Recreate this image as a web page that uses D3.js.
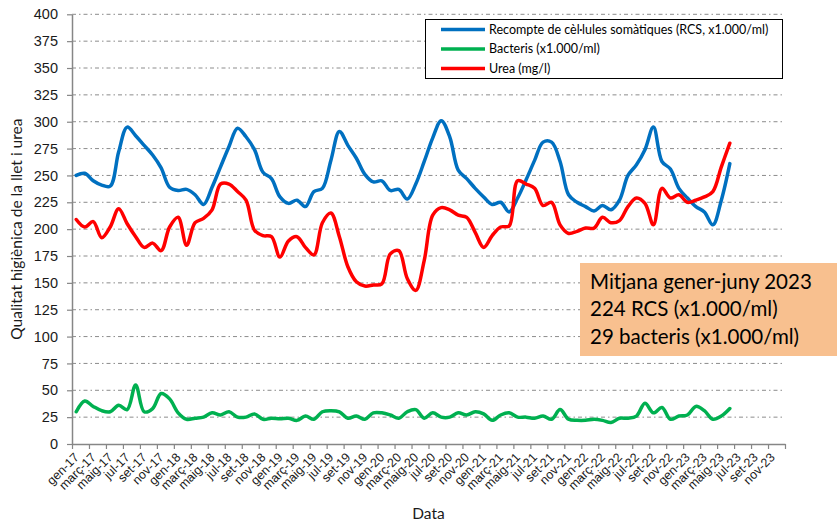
<!DOCTYPE html>
<html>
<head>
<meta charset="utf-8">
<script src="https://cdn.jsdelivr.net/npm/d3@7"></script>
<style>
  body { margin: 0; background: #fff; }
  svg { display: block; font-family: Lato, "Open Sans", sans-serif; }
</style>
</head>
<body>
<div id="chart"></div>
<script>
// dades mensuals gen-17 .. juny-23
var rcs = [250,252,245,241,240,272,295,287,278,269,257,239,
           236,237,232,223,239,258,277,294,286,274,253,247,
           230,224,227,221,235,238,264,291,278,266,251,244,
           245,236,237,228,242,263,285,301,286,255,247,238,
           230,223,225,216,229,246,264,281,281,263,232,225,
           221,217,222,218,227,250,260,274,295,263,256,238,
           229,221,216,204,227,261];
var bacteris = [30,40,35,31,30,36,32,55,30,33,47,42,
                29,23,24,25,29,27,30,25,25,28,23,24,
                23.5,24,22,26,23,30,31,30,24,26,23,29,
                29,27,24,30,32,24,29,25,25,29,27,30,
                28,22,27,29,25,25,24,26,23,32,23,22,
                22,23,22,20,24,24,26,38,29,34,23,26,
                27,35,31,23,26,33];
var urea = [209,202,207,192,202,219,205,193,183,187,180,202,
            211,185,206,210,218,242,242,235,227,199,194,193,
            174,189,193,183,176,206,215,193,165,151,147,148,
            149,177,180,154,143,171,213,220,218,213,211,197,
            183,194,202,203,245,242,238,222,225,204,196,198,
            201,201,211,206,208,221,229,224,204,238,229,232,
            225,227,230,235,258,280];

var tickMonths = ["gen","març","maig","jul","set","nov"];
var tickYears = ["17","18","19","20","21","22","23"];
var yTicks = d3.range(0, 401, 25);

var seriesNames = ["Recompte de cèl·lules somàtiques (RCS, x1.000/ml)", "Bacteris (x1.000/ml)", "Urea (mg/l)"];
var seriesColors = ["#0070C0", "#00B050", "#FF0000"];
var noteLines = ["Mitjana gener-juny 2023", "224 RCS (x1.000/ml)", "29 bacteris (x1.000/ml)"];

var tickLabels = [];
tickYears.forEach(function(yy){
    tickMonths.forEach(function(m){ tickLabels.push(m + "-" + yy); });
});

var width = 837, height = 525;
var svg = d3.select("#chart").append("svg")
    .attr("width", width)
    .attr("height", height);

var x = d3.scaleLinear().domain([0, 84]).range([72, 785]);
var y = d3.scaleLinear().domain([0, 400]).range([444, 14.3]);

// graella
svg.append("g").selectAll("line")
    .data(yTicks.filter(function(d){ return d > 0; }))
    .enter().append("line")
    .attr("x1", x(0)).attr("x2", x(84))
    .attr("y1", function(d){ return y(d); })
    .attr("y2", function(d){ return y(d); })
    .attr("stroke", "#8c8c8c")
    .attr("stroke-width", 1)
    .attr("stroke-dasharray", "4,3,1.5,3");

// eixos
var yAxis = svg.append("g")
    .attr("transform", "translate(" + x(0) + ",0)")
    .call(d3.axisLeft(y).tickValues(yTicks).tickSize(5).tickSizeOuter(0).tickPadding(9));

var xAxis = svg.append("g")
    .attr("transform", "translate(0," + y(0) + ")")
    .call(d3.axisBottom(x).tickValues(d3.range(0, 85, 2)).tickSize(5).tickSizeOuter(0)
        .tickFormat(function(d){ return tickLabels[d / 2] || ""; }));

[yAxis, xAxis].forEach(function(a){
    a.select(".domain").attr("stroke", "#868686").attr("stroke-width", 1.5);
    a.selectAll(".tick line").attr("stroke", "#868686").attr("stroke-width", 1.2);
    a.selectAll("text").attr("fill", "#1a1a1a");
});
yAxis.selectAll("text").style("font-size", "14.5px");
xAxis.selectAll("text")
    .style("font-size", "12.5px")
    .style("text-anchor", "end")
    .attr("y", 0).attr("dy", "0.35em")
    .attr("transform", "translate(4,11) rotate(-45)");

svg.append("text")
    .attr("transform", "translate(22," + y(200) + ") rotate(-90)")
    .attr("text-anchor", "middle")
    .attr("fill", "#1a1a1a")
    .style("font-size", "15.5px")
    .text("Qualitat higiènica de la llet i urea");

svg.append("text")
    .attr("x", (x(0) + x(84)) / 2)
    .attr("y", 519)
    .attr("text-anchor", "middle")
    .attr("fill", "#1a1a1a")
    .style("font-size", "15.5px")
    .text("Data");

// línies
var line = d3.line()
    .x(function(d, i){ return x(i + 0.5); })
    .y(function(d){ return y(d); })
    .curve(d3.curveCatmullRom.alpha(0.5));

[rcs, bacteris, urea].forEach(function(s, k){
    svg.append("path")
        .datum(s)
        .attr("d", line)
        .attr("fill", "none")
        .attr("stroke", seriesColors[k])
        .attr("stroke-width", 3.5)
        .attr("stroke-linejoin", "round")
        .attr("stroke-linecap", "round");
});

// llegenda
var legend = svg.append("g");
legend.append("rect")
    .attr("x", 425.5).attr("y", 19.5)
    .attr("width", 357).attr("height", 59)
    .attr("fill", "#fff")
    .attr("stroke", "#000")
    .attr("stroke-width", 1);
seriesNames.forEach(function(n, i){
    var ly = 29.5 + i * 19.5;
    legend.append("line")
        .attr("x1", 441).attr("x2", 485)
        .attr("y1", ly).attr("y2", ly)
        .attr("stroke", seriesColors[i])
        .attr("stroke-width", 3.5);
    legend.append("text")
        .attr("x", 489).attr("y", ly)
        .attr("dy", "0.35em")
        .attr("fill", "#000")
        .style("font-size", "12.5px")
        .text(n);
});

// nota
var note = svg.append("g");
note.append("rect")
    .attr("x", 580).attr("y", 263)
    .attr("width", 257).attr("height", 93)
    .attr("fill", "#F8C08F");
noteLines.forEach(function(t, i){
    note.append("text")
        .attr("x", 590).attr("y", 288.5 + i * 27.5)
        .attr("fill", "#000")
        .style("font-size", "20.5px")
        .text(t);
});
</script>
</body>
</html>
